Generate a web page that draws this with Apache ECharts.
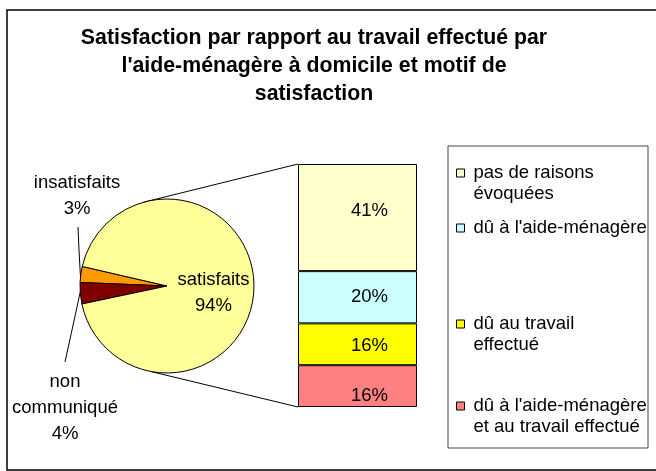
<!DOCTYPE html>
<html>
<head>
<meta charset="utf-8">
<script src="https://cdn.jsdelivr.net/npm/echarts@6/dist/echarts.min.js"></script>
<style>
html, body { margin: 0; padding: 0; background: #fff; }
#chart { width: 656px; height: 471px; }
</style>
</head>
<body>
<div id="chart"></div>
<script>
// pie : part des répondants
var pieNames = ['insatisfaits', 'non communiqué', 'satisfaits']
var pieValues = [3, 4, 94]
var pieColors = ['#FF9900', '#800000', '#FFFF99']
var pieLabels = ['insatisfaits', 'non\ncommuniqué', 'satisfaits']

// barre : motif de satisfaction (de bas en haut)
var barNames = [
  "dû à l'aide-ménagère et au travail effectué",
  'dû au travail effectué',
  "dû à l'aide-ménagère",
  'pas de raisons évoquées'
]
var barValues = [16, 16, 20, 41]
var barColors = ['#FF8080', '#FFFF00', '#CCFFFF', '#FFFFCC']
var legendLabels = {
  'pas de raisons évoquées': '\npas de raisons\névoquées',
  "dû à l'aide-ménagère": "dû à l'aide-ménagère",
  'dû au travail effectué': '\ndû au travail\neffectué',
  "dû à l'aide-ménagère et au travail effectué": "\ndû à l'aide-ménagère\net au travail effectué"
}

var font = '"Liberation Sans", Arial, sans-serif'
var pieCenter = [167, 286]
var pieRadius = 87
var gridLeft = 298, gridTop = 164, gridWidth = 119, gridHeight = 243

var barTotal = 0
barValues.forEach(function (v) { barTotal += v })

function piePoint (deg) {
  var a = deg * Math.PI / 180
  return [pieCenter[0] + pieRadius * Math.cos(a), pieCenter[1] - pieRadius * Math.sin(a)]
}

var labelOffsets = [[12, 10], [12, 2], [12, 0], [12, -7]]
var legendTops = [141.5, 217.5, 292.5, 374.5]
var legendOrder = [3, 2, 1, 0]

var myChart = echarts.init(document.getElementById('chart'))

var series = []
barNames.forEach(function (name, i) {
  series.push({
    name: name,
    type: 'bar',
    stack: 'motif',
    barWidth: '100%',
    data: [barValues[i]],
    itemStyle: { color: barColors[i], borderColor: '#000', borderWidth: 1 },
    label: {
      show: true,
      position: 'inside',
      offset: labelOffsets[i],
      formatter: '{c}%',
      color: '#000',
      fontSize: 18.5,
      fontFamily: font
    },
    emphasis: { disabled: true },
    silent: true
  })
})

series.push({
  type: 'pie',
  center: pieCenter,
  radius: pieRadius,
  startAngle: 167,
  clockwise: false,
  silent: true,
  itemStyle: { borderColor: '#000', borderWidth: 1 },
  label: {
    show: true,
    formatter: function (p) { return pieLabels[p.dataIndex] + '\n' + p.value + '%' },
    color: '#000',
    fontSize: 18.5,
    lineHeight: 26,
    fontFamily: font,
    overflow: 'none'
  },
  labelLine: { show: true, lineStyle: { color: '#000', width: 1 }, length: 10, length2: 10 },
  labelLayout: function (p) {
    if (p.dataIndex === 0) {
      return { x: 77, y: 196, align: 'center', verticalAlign: 'middle', width: 200,
        labelLinePoints: [piePoint(174), [79, 250], [78, 227]] }
    }
    if (p.dataIndex === 1) {
      return { x: 65, y: 408, align: 'center', verticalAlign: 'middle', width: 200,
        labelLinePoints: [piePoint(184), [72, 330], [65, 362]] }
    }
    return { dy: 6 }
  },
  data: pieNames.map(function (n, i) {
    var d = { name: n, value: pieValues[i], itemStyle: { color: pieColors[i] } }
    if (i === 2) d.label = { position: 'inside' }
    return d
  })
})

var legends = legendOrder.map(function (idx, k) {
  return {
    data: [barNames[idx]],
    left: 456,
    top: legendTops[k],
    orient: 'vertical',
    padding: 0,
    icon: 'rect',
    itemWidth: 8,
    itemHeight: 8,
    selectedMode: false,
    itemStyle: { borderColor: '#000', borderWidth: 1 },
    formatter: function (n) { return legendLabels[n] },
    textStyle: {
      color: '#000',
      fontSize: 18.5,
      lineHeight: 21,
      fontFamily: font,
      padding: [0, 0, 0, 4],
      width: 176,
      overflow: 'truncate',
      ellipsis: ''
    }
  }
})

var p1 = piePoint(106)
var p2 = piePoint(259)

var option = {
  animation: false,
  backgroundColor: '#fff',
  title: {
    text: "Satisfaction par rapport au travail effectué par\nl'aide-ménagère à domicile et motif de\nsatisfaction",
    left: 314,
    top: 24,
    padding: 0,
    textAlign: 'center',
    textStyle: { color: '#000', fontSize: 21.3, fontWeight: 'bold', lineHeight: 28, fontFamily: font }
  },
  legend: legends,
  grid: { left: gridLeft, top: gridTop, width: gridWidth, height: gridHeight, containLabel: false },
  xAxis: { type: 'category', data: ['motif'], show: false },
  yAxis: { type: 'value', min: 0, max: barTotal, show: false },
  series: series,
  graphic: [
    { type: 'rect', z: -1, shape: { x: 7, y: 10, width: 660, height: 460 },
      style: { fill: 'none', stroke: '#000', lineWidth: 1.5 } },
    { type: 'rect', shape: { x: 448, y: 146, width: 200, height: 302 },
      style: { fill: 'none', stroke: '#444', lineWidth: 1 } },
    { type: 'line', shape: { x1: p1[0], y1: p1[1], x2: gridLeft, y2: gridTop },
      style: { stroke: '#000', lineWidth: 1 } },
    { type: 'line', shape: { x1: p2[0], y1: p2[1], x2: gridLeft, y2: gridTop + gridHeight },
      style: { stroke: '#000', lineWidth: 1 } }
  ]
}

myChart.setOption(option)
</script>
</body>
</html>
